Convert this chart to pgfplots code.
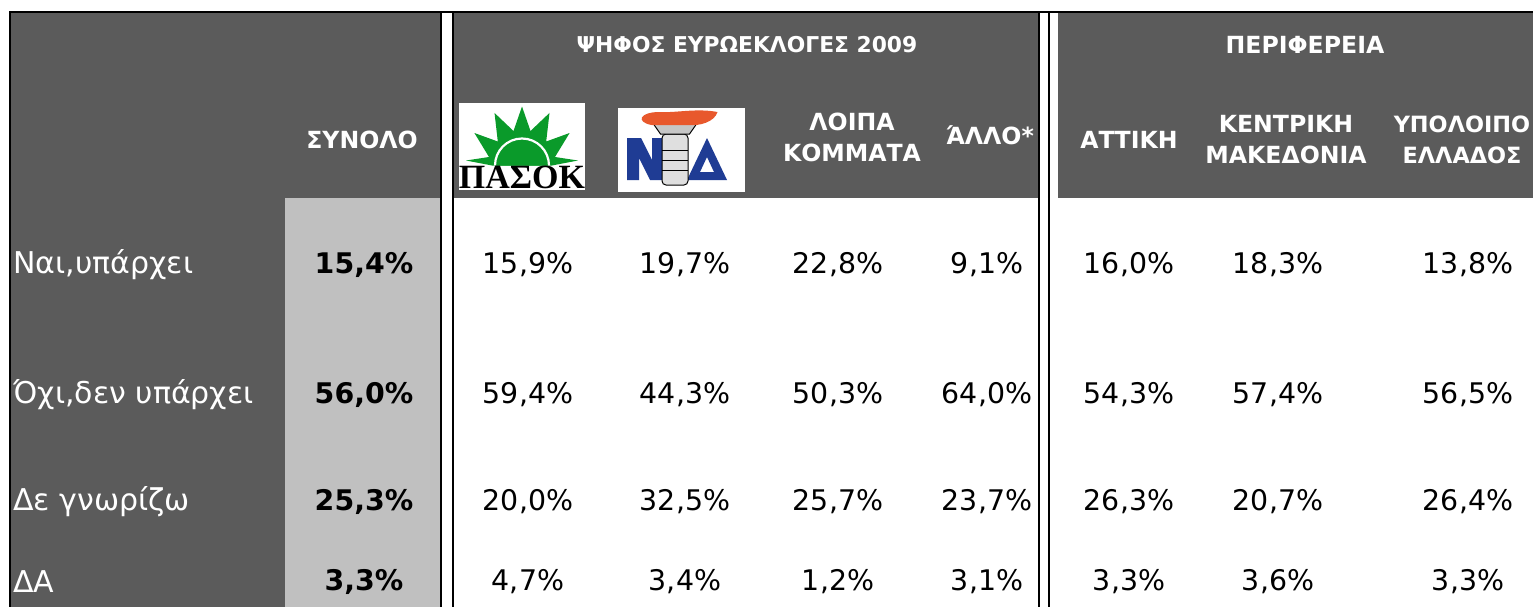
\documentclass[border=0pt]{standalone}
\usepackage{pgfplots}
\pgfplotsset{compat=1.18}
\usepackage{pgfplotstable}
\usepackage{fontspec}
\setmainfont{DejaVu Sans}
\newfontfamily\logoserif{Liberation Serif}
\definecolor{darkg}{HTML}{5B5B5B}
\definecolor{lightg}{HTML}{C0C0C0}
\definecolor{pasokgreen}{HTML}{0A9A2A}
\definecolor{ndblue}{HTML}{1F3C94}
\definecolor{flame}{HTML}{E8582C}

% x = column centre, y = row centre (pixels from top), v = percentage
\pgfplotstableread{
x y v
364 265 15.4
364 395 56.0
364 502 25.3
364 582 3.3
}\total
\pgfplotstableread{
x y v
528 265 15.9
528 395 59.4
528 502 20.0
528 582 4.7
685 265 19.7
685 395 44.3
685 502 32.5
685 582 3.4
838 265 22.8
838 395 50.3
838 502 25.7
838 582 1.2
987 265 9.1
987 395 64.0
987 502 23.7
987 582 3.1
}\vote
\pgfplotstableread{
x y v
1129 265 16.0
1129 395 54.3
1129 502 26.3
1129 582 3.3
1278 265 18.3
1278 395 57.4
1278 502 20.7
1278 582 3.6
1468 265 13.8
1468 395 56.5
1468 502 26.4
1468 582 3.3
}\region

\pgfplotsset{
  valstyle/.style={draw=none, mark=none, point meta=explicit,
    nodes near coords={\pgfmathprintnumber[fixed,fixed zerofill,precision=1,use comma,assume math mode=true]{\pgfplotspointmeta}\%},
    every node near coord/.append style={anchor=center, inner sep=0pt, text=black, font=\fontsize{14.2}{17}\selectfont#1}},
}

\begin{document}
\begin{tikzpicture}
\begin{axis}[width=766.5pt, height=303.5pt, scale only axis,
  xmin=0, xmax=1533, ymin=0, ymax=607, y dir=reverse, hide axis, clip=false]
% backgrounds
\fill[white] (axis cs:0,0) rectangle (axis cs:1533,607);
\fill[darkg] (axis cs:10,11) rectangle (axis cs:441,607);
\fill[lightg] (axis cs:285,198) rectangle (axis cs:441,607);
\fill[darkg] (axis cs:453,11) rectangle (axis cs:1038,198);
\fill[darkg] (axis cs:1058,11) rectangle (axis cs:1533,198);
% rules
\fill[black] (axis cs:9,10.5) rectangle (axis cs:1533,12.8);
\fill[black] (axis cs:9,10.5) rectangle (axis cs:11,607);
\fill[black] (axis cs:440,10.5) rectangle (axis cs:442.3,607);
\fill[black] (axis cs:452,10.5) rectangle (axis cs:454,607);
\fill[black] (axis cs:1037.5,10.5) rectangle (axis cs:1039.5,607);
\fill[black] (axis cs:1048,10.5) rectangle (axis cs:1050,607);

% headers
\begin{scope}[every node/.style={text=white, font=\fontsize{11.8}{15.5}\selectfont\bfseries, align=center, inner sep=0pt}]
\node at (axis cs:747,45) {\fontsize{10.9}{13}\selectfont ΨΗΦΟΣ ΕΥΡΩΕΚΛΟΓΕΣ 2009};
\node at (axis cs:1305,45) {ΠΕΡΙΦΕΡΕΙΑ};
\node at (axis cs:362,140) {ΣΥΝΟΛΟ};
\node at (axis cs:852,137) {ΛΟΙΠΑ\\ΚΟΜΜΑΤΑ};
\node at (axis cs:990,135) {ΆΛΛΟ*};
\node at (axis cs:1129,140) {ΑΤΤΙΚΗ};
\node at (axis cs:1286,140) {ΚΕΝΤΡΙΚΗ\\ΜΑΚΕΔΟΝΙΑ};
\node at (axis cs:1462,140) {\fontsize{11.2}{15.5}\selectfont ΥΠΟΛΟΙΠΟ\\\fontsize{11.2}{15.5}\selectfont ΕΛΛΑΔΟΣ};
\end{scope}
% row labels
\begin{scope}[every node/.style={text=white, font=\fontsize{15}{18}\selectfont, anchor=west, inner sep=0pt}]
\node at (axis cs:13,265) {Ναι,υπάρχει};
\node at (axis cs:13,395) {Όχι,δεν υπάρχει};
\node at (axis cs:13,502) {Δε γνωρίζω};
\node at (axis cs:13,582) {ΔΑ};
\end{scope}

\coordinate (pk) at (axis cs:522,146.5);
\coordinate (nd) at (axis cs:681.5,150);

\addplot[valstyle=\bfseries] table[x=x, y=y, meta=v] {\total};
\addplot[valstyle=] table[x=x, y=y, meta=v] {\vote};
\addplot[valstyle=] table[x=x, y=y, meta=v] {\region};
\end{axis}

% PASOK logo
\begin{scope}[shift={(pk)}, x=0.5pt, y=-0.5pt]
\fill[white] (-63,-43.5) rectangle (63,43.5);
\fill[pasokgreen] (-56,14) -- (-33,10.5) -- (-47.6,-13.5) -- (-24.2,-5) -- (-27.5,-33.6) -- (-8.5,-15.5) -- (0,-40)
  -- (8.5,-15.5) -- (27.5,-33.6) -- (24.2,-5) -- (47.6,-13.5) -- (33,10.5) -- (56,14) -- (30,19) -- (-30,19) -- cycle;
\fill[pasokgreen] (-27,19) arc[start angle=180, end angle=360, radius=27] -- cycle;
\draw[white, line width=1.1pt] (-27,19) arc[start angle=180, end angle=360, radius=27];
\node[inner sep=0pt] at (0,31) {\logoserif\fontsize{17}{17}\selectfont\bfseries ΠΑΣΟΚ};
\end{scope}

% ND logo
\begin{scope}[shift={(nd)}, x=0.5pt, y=-0.5pt]
\fill[white] (-63.5,-42) rectangle (63.5,42);
\fill[ndblue] (-54.5,30) -- (-54.5,-12) -- (-40.5,-12) -- (-29.5,10) -- (-29.5,-12) -- (-17.5,-12) -- (-17.5,30) -- (-31.5,30) -- (-42.5,8) -- (-42.5,30) -- cycle;
\fill[ndblue, even odd rule] (5.5,30) -- (25.5,-12) -- (45.5,30) -- cycle (18.5,22) -- (25.5,7) -- (32.5,22) -- cycle;
\filldraw[fill=gray!25, draw=black, line width=0.5pt, rounded corners=2pt] (-19.5,-16) rectangle (6.5,35);
\draw[black, line width=0.4pt] (-19.5,0) -- (6.5,0) (-19.5,10) -- (6.5,10) (-19.5,20) -- (6.5,20);
\filldraw[fill=gray!45, draw=black, line width=0.5pt] (-28,-26) -- (15,-26) -- (8,-16) -- (-21,-16) -- cycle;
\fill[flame] (-30,-25) .. controls (-46,-28) and (-42,-38) .. (-22,-38) .. controls (-5,-37) and (15,-42) .. (36,-38)
  .. controls (33,-28) and (18,-24) .. (8,-25) -- cycle;
\end{scope}
\end{tikzpicture}
\end{document}
